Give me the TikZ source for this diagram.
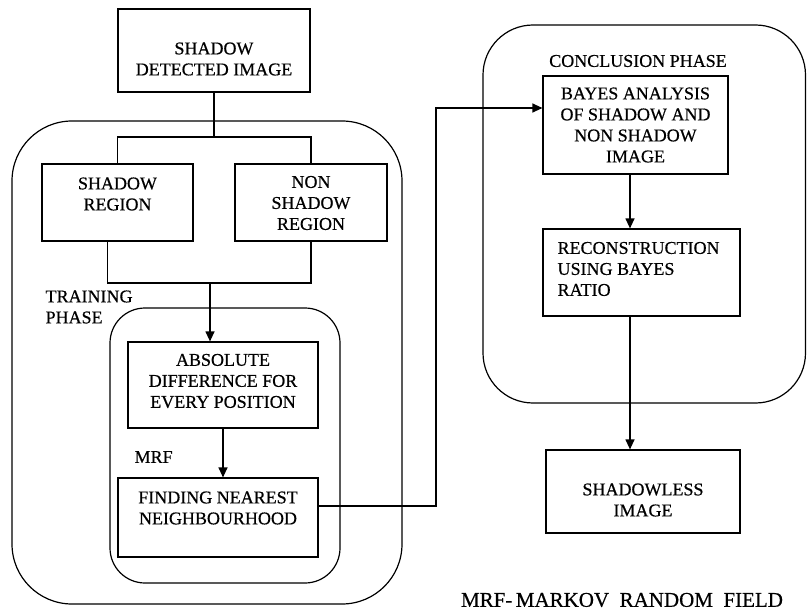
\documentclass[tikz,border=0pt]{standalone}
\usepackage{fontspec}
\setmainfont{Liberation Serif}
\newfontfamily\boxfont[FakeBold=0.5]{Liberation Serif}
\usepackage{tikz}
\usetikzlibrary{arrows.meta, calc}

\tikzset{
    box/.style={draw, inner sep=0pt},
    txt/.style={align=center, inner sep=0pt, font=\boxfont\fontsize{18}{21}\selectfont},
    arr/.style={-{Triangle[length=10pt, width=9pt]}},
}

\begin{document}
\begin{tikzpicture}[x=1pt, y=-1pt, line width=1.2pt]
    \useasboundingbox (0,0) rectangle (807,610);

    % Phase frames
    \draw[rounded corners=60pt] (12,121) rectangle (402,604);
    \draw[rounded corners=35pt] (110,308) rectangle (340,583);
    \draw[rounded corners=50pt] (483,25) rectangle (805.5,403);

    % Boxes
    \node[box, minimum width=192, minimum height=83] (detect) at (214,50.5) {};
    \node[txt] (detect-t) at (214,59) {SHADOW\\DETECTED IMAGE};
    \node[box, minimum width=151, minimum height=77] (shadow) at (117.5,202.5) {};
    \node[txt] (shadow-t) at (117.5,194) {SHADOW\\REGION};
    \node[box, minimum width=152, minimum height=77] (nonsh) at (311,202.5) {};
    \node[txt] (nonsh-t) at (311,203) {NON\\SHADOW\\REGION};
    \node[box, minimum width=190, minimum height=86] (absd) at (223,385) {};
    \node[txt] (absd-t) at (223,381) {ABSOLUTE\\DIFFERENCE FOR\\EVERY POSITION};
    \node[box, minimum width=200, minimum height=79] (find) at (218,517.5) {};
    \node[txt] (find-t) at (218,508) {FINDING NEAREST\\NEIGHBOURHOOD};
    \node[box, minimum width=185, minimum height=98] (bayes) at (635.5,125) {};
    \node[txt] (bayes-t) at (635.5,125) {BAYES ANALYSIS\\OF SHADOW AND\\NON SHADOW\\IMAGE};
    \node[box, minimum width=197, minimum height=87] (rec) at (641.5,272.5) {};
    \node[txt, align=left, anchor=west] (rec-t) at (557,269) {RECONSTRUCTION\\USING BAYES\\RATIO};
    \node[box, minimum width=194, minimum height=83] (less) at (643,491.5) {};
    \node[txt] (less-t) at (643,500) {SHADOWLESS\\IMAGE};

    % Phase labels
    \node[txt, align=left, anchor=west] (train) at (45,307) {TRAINING\\PHASE};
    \node[txt, anchor=west] (mrf) at (134,457) {MRF};
    \node[txt] (concl) at (638,61) {CONCLUSION PHASE};
    \node[txt, font=\boxfont\fontsize{21}{24}\selectfont] (legend) at (622,600)
        {MRF-\,MARKOV\ \ RANDOM\ \ FIELD};

    % Connectors
    \coordinate (split) at (214,137);
    \coordinate (merge) at (210,283);
    \coordinate (hop) at (436,108);
    \coordinate (spine) at (630,0);
    \draw (detect.south) -- (split);
    \draw (shadow.north) |- (split) -| (nonsh.north);
    \draw ([xshift=-10pt]shadow.south) |- (merge) -| (nonsh.south);
    \draw[arr] (merge) -- (merge |- absd.north);
    \draw[arr] (absd.south) -- (absd.south |- find.north);
    \draw[arr] ([yshift=11.5pt]find.east) -| (hop) -- (hop -| bayes.west);
    \draw[arr] (bayes.south -| spine) -- (rec.north -| spine);
    \draw[arr] (rec.south -| spine) -- (less.north -| spine);
\end{tikzpicture}
\end{document}
